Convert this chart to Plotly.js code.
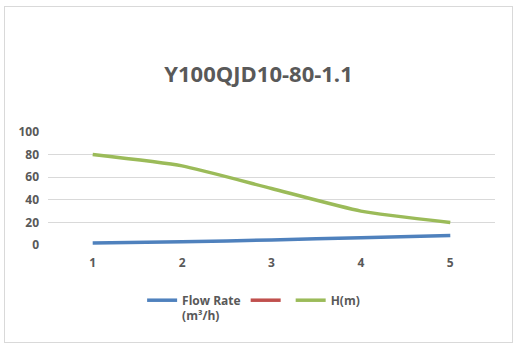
<!DOCTYPE html>
<html><head><meta charset="utf-8">
<script src="https://cdn.plot.ly/plotly-3.0.1.min.js"></script>
<style>
html,body{margin:0;padding:0;background:#fff;}
#chart{position:absolute;left:4px;top:6px;width:509px;height:337px;border:1px solid #d9d9d9;box-sizing:border-box;}
</style></head>
<body><div id="chart"></div>
<script>
const categories = ['1','2','3','4','5'];
const flowRate = [1.8, 2.8, 4.5, 6.5, 8.5];
const seriesRed = [null, null, null, null, null];
const headM = [80, 70, 50, 30, 20];
const titleText = 'Y100QJD10-80-1.1';
const seriesNames = ['Flow Rate<br>(m³/h)', '', 'H(m)'];

const txt = '#595959';
const fontFam = '"Open Sans", Lato, sans-serif';
const traces = [
  {x: categories, y: flowRate, name: seriesNames[0], type: 'scatter', mode: 'lines',
   line: {color: '#4F81BD', width: 3.5, shape: 'spline', smoothing: 0.5}},
  {x: categories, y: seriesRed, name: seriesNames[1], type: 'scatter', mode: 'lines',
   line: {color: '#C0504D', width: 3.5}, showlegend: true},
  {x: categories, y: headM, name: seriesNames[2], type: 'scatter', mode: 'lines',
   line: {color: '#9BBB59', width: 3.5, shape: 'spline', smoothing: 0.5}}
];
const layout = {
  width: 507, height: 335,
  margin: {l: 43, r: 17, t: 125, b: 96},
  paper_bgcolor: '#fff', plot_bgcolor: '#fff',
  font: {family: fontFam, color: txt, size: 12},
  title: {text: '<b>' + titleText + '</b>', x: 0.5, xanchor: 'center', y: 0.8, yanchor: 'middle',
          font: {family: fontFam, size: 22, color: txt}},
  xaxis: {type: 'category', showgrid: false, zeroline: false, showline: false, ticks: '',
          tickfont: {family: fontFam, size: 12, color: txt, weight: 'bold'}, ticklabelstandoff: 9,
          range: [-0.5, 4.5]},
  yaxis: {range: [0, 100], tickvals: [0,20,40,60,80,100], showgrid: true, gridcolor: '#d9d9d9', gridwidth: 1,
          zeroline: false, showline: false, ticks: '',
          tickfont: {family: fontFam, size: 12, color: txt, weight: 'bold'}, ticklabelstandoff: 8},
  showlegend: true,
  legend: {orientation: 'h', x: 0.46, xanchor: 'center', y: -0.35, yanchor: 'top', valign: 'top',
           font: {family: fontFam, size: 12, color: txt, weight: 'bold'}, itemwidth: 30, tracegroupgap: 0},
};
Plotly.newPlot('chart', traces, layout, {staticPlot: true, displayModeBar: false});
</script></body></html>
